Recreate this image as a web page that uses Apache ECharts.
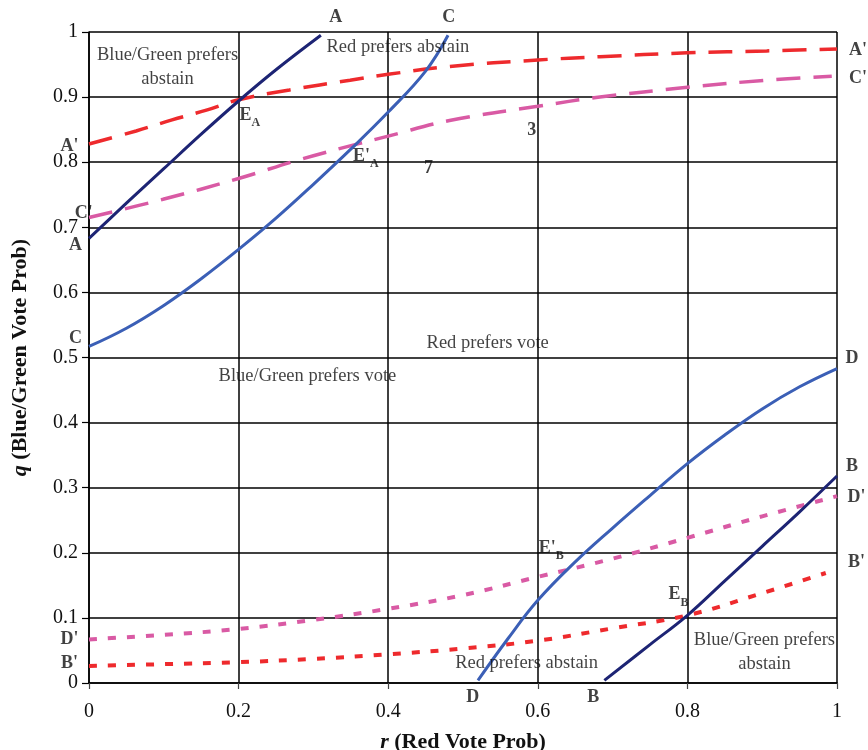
<!DOCTYPE html>
<html>
<head>
<meta charset="utf-8">
<script src="https://cdn.jsdelivr.net/npm/echarts@6/dist/echarts.min.js"></script>
<style>html,body{margin:0;padding:0;background:#fff}#c{width:868px;height:750px}</style>
</head>
<body>
<div id="c"></div>
<script>
// ---- data (r, q) ----
const curveA  = [[0,0.683],[0.05,0.737],[0.1,0.790],[0.15,0.843],[0.2,0.894],[0.25,0.942],[0.31,0.995]];
const curveC  = [[0,0.517],[0.05,0.545],[0.1,0.580],[0.15,0.621],[0.2,0.666],[0.25,0.714],[0.3,0.766],[0.35,0.820],[0.4,0.877],[0.45,0.940],[0.48,0.995]];
const curveAp = [[0,0.828],[0.063,0.848],[0.111,0.865],[0.157,0.880],[0.2,0.896],[0.268,0.911],[0.349,0.926],[0.4,0.935],[0.482,0.947],[0.6,0.957],[0.683,0.962],[0.8,0.968],[0.906,0.971],[1.0,0.974]];
const curveCp = [[0,0.715],[0.099,0.743],[0.2,0.775],[0.282,0.804],[0.362,0.829],[0.4,0.840],[0.482,0.864],[0.6,0.886],[0.683,0.900],[0.8,0.915],[0.906,0.926],[0.993,0.932]];
const curveD  = [[0.52,0.004],[0.56,0.068],[0.6,0.127],[0.65,0.186],[0.7,0.238],[0.75,0.288],[0.8,0.337],[0.85,0.381],[0.9,0.421],[0.95,0.455],[1.0,0.483]];
const curveB  = [[0.689,0.004],[0.75,0.059],[0.8,0.104],[0.85,0.157],[0.9,0.210],[0.95,0.263],[1.0,0.318]];
const curveDp = [[0,0.067],[0.1,0.074],[0.2,0.083],[0.3,0.097],[0.4,0.114],[0.5,0.135],[0.6,0.163],[0.7,0.191],[0.8,0.223],[0.9,0.256],[1.0,0.287]];
const curveBp = [[0,0.026],[0.1,0.029],[0.2,0.032],[0.3,0.037],[0.4,0.044],[0.5,0.053],[0.6,0.065],[0.7,0.084],[0.8,0.104],[0.9,0.138],[0.985,0.169]];

// point labels: [r, q, text]
const pointLabels = [
  [0.33,1.023,'A'],[0.481,1.023,'C'],
  [1.028,0.972,"A'"],[1.028,0.929,"C'"],
  [-0.026,0.825,"A'"],[-0.007,0.722,"C'"],[-0.018,0.673,'A'],[-0.018,0.530,'C'],
  [0.592,0.849,'3'],[0.454,0.791,'7'],
  [1.02,0.499,'D'],[1.02,0.333,'B'],[1.026,0.285,"D'"],[1.026,0.185,"B'"],
  [-0.026,0.067,"D'"],[-0.026,0.030,"B'"],
  [0.513,-0.022,'D'],[0.674,-0.022,'B']
];
// subscripted labels: [r, q, main, sub]
const subLabels = [
  [0.215,0.869,'E','A'],[0.37,0.806,"E'",'A'],
  [0.618,0.204,"E'",'B'],[0.788,0.133,'E','B']
];
// region texts: [r, q, text]
const regionLabels = [
  [0.105,0.946,'Blue/Green prefers\nabstain'],
  [0.413,0.977,'Red prefers abstain'],
  [0.533,0.522,'Red prefers vote'],
  [0.292,0.471,'Blue/Green prefers vote'],
  [0.585,0.030,'Red prefers abstain'],
  [0.903,0.047,'Blue/Green prefers\nabstain']
];
const xTickLabels = ['0','0.2','0.4','0.6','0.8','1'];
const yTickLabels = ['0','0.1','0.2','0.3','0.4','0.5','0.6','0.7','0.8','0.9','1'];

const NAVY = '#1d2474', BLUE = '#3b5fb6', RED = '#ee2a2d', MAG = '#d95aa4';
const SERIF = '"Liberation Serif","DejaVu Serif",serif';

function solid(data, color){
  return {type:'line', data, smooth:0.4, symbol:'none', lineStyle:{color, width:3}, silent:true, z:3};
}
function dashed(data, color, pattern, w){
  return {type:'line', data, smooth:0.4, symbol:'none', lineStyle:{color, width:w, type:pattern, cap:'butt'}, silent:true, z:2};
}

const chart = echarts.init(document.getElementById('c'), null, {renderer:'canvas'});
chart.setOption({
  animation:false,
  backgroundColor:'#fff',
  grid:{left:89, right:31, top:32, bottom:67, containLabel:false, outerBoundsMode:'none'},
  xAxis:{
    type:'value', min:0, max:1, interval:0.2,
    axisLine:{show:true, onZero:false, lineStyle:{color:'#000', width:1.5}},
    axisTick:{show:true, length:6, lineStyle:{color:'#444', width:1.2}},
    splitLine:{show:true, lineStyle:{color:'#000', width:1.5}},
    axisLabel:{margin:19, fontFamily:SERIF, fontSize:20, color:'#111',
      formatter:(v)=>xTickLabels[Math.round(v/0.2)]},
    name:'{i|r} (Red Vote Prob)', nameLocation:'middle', nameGap:48,
    nameTextStyle:{fontFamily:SERIF, fontSize:22, fontWeight:'bold', color:'#111',
      rich:{i:{fontFamily:SERIF, fontSize:22, fontWeight:'bold', fontStyle:'italic', color:'#111'}}}
  },
  yAxis:{
    type:'value', min:0, max:1, interval:0.1,
    axisLine:{show:true, onZero:false, lineStyle:{color:'#000', width:1.5}},
    axisTick:{show:true, length:7, lineStyle:{color:'#000', width:1.2}},
    splitLine:{show:true, lineStyle:{color:'#000', width:1.5}},
    axisLabel:{margin:11, fontFamily:SERIF, fontSize:20, color:'#111',
      formatter:(v)=>yTickLabels[Math.round(v/0.1)]},
    name:'{i|q} (Blue/Green Vote Prob)', nameLocation:'middle', nameGap:58, nameRotate:90,
    nameTextStyle:{fontFamily:SERIF, fontSize:22, fontWeight:'bold', color:'#111',
      rich:{i:{fontFamily:SERIF, fontSize:22, fontWeight:'bold', fontStyle:'italic', color:'#111'}}}
  },
  series:[
    dashed(curveAp, RED, [24,13], 3.5),
    dashed(curveCp, MAG, [24,13], 3.5),
    dashed(curveDp, MAG, [8,11], 4),
    dashed(curveBp, RED, [8,11], 4),
    solid(curveA, NAVY),
    solid(curveB, NAVY),
    solid(curveC, BLUE),
    solid(curveD, BLUE),
    {type:'scatter', symbolSize:0, clip:false, silent:true, z:10,
      data:pointLabels.map(p=>({value:[p[0],p[1]], name:p[2]})),
      label:{show:true, position:'inside', formatter:(p)=>p.name,
        fontFamily:SERIF, fontSize:18, fontWeight:'bold', color:'#111'}},
    {type:'scatter', symbolSize:0, clip:false, silent:true, z:10,
      data:subLabels.map(p=>({value:[p[0],p[1]], name:p[2]+'|'+p[3]})),
      label:{show:true, position:'inside',
        formatter:(p)=>{const s=p.name.split('|'); return '{m|'+s[0]+'}{s|'+s[1]+'}';},
        rich:{
          m:{fontFamily:SERIF, fontSize:18, fontWeight:'bold', color:'#111', lineHeight:22, verticalAlign:'top'},
          s:{fontFamily:SERIF, fontSize:12, fontWeight:'bold', color:'#111', lineHeight:22, verticalAlign:'bottom', padding:[0,0,-1,0]}
        }}},
    {type:'scatter', symbolSize:0, clip:false, silent:true, z:10,
      data:regionLabels.map(p=>({value:[p[0],p[1]], name:p[2]})),
      label:{show:true, position:'inside', formatter:(p)=>p.name, lineHeight:24,
        fontFamily:SERIF, fontSize:18.5, color:'#111'}}
  ]
});
</script>
</body>
</html>
